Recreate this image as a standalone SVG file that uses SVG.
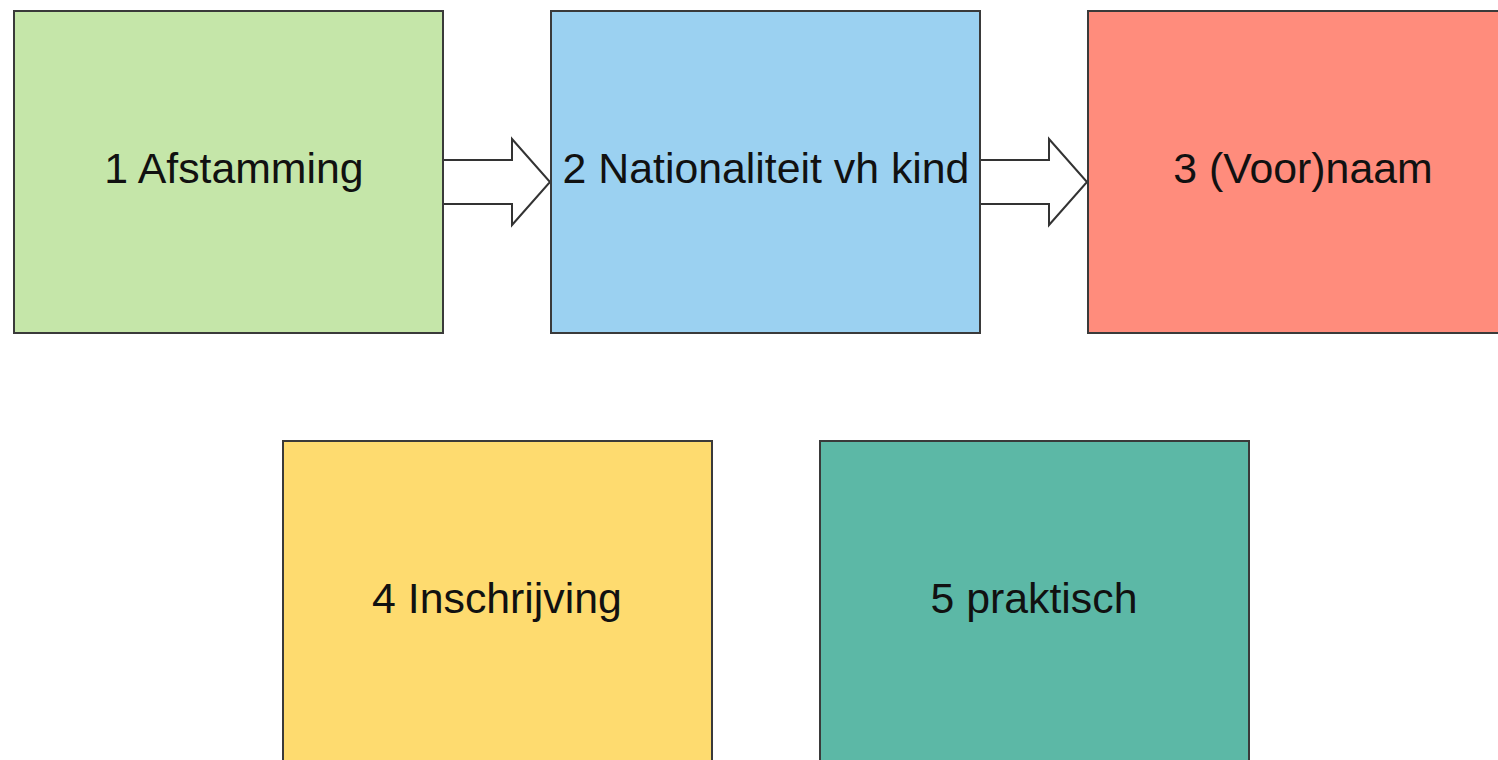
<svg xmlns="http://www.w3.org/2000/svg" width="1498" height="760" viewBox="0 0 1498 760">
<style>
.box{stroke:#3a3a3a;stroke-width:2}
.lbl{font-family:"Liberation Sans",Arial,sans-serif;font-size:42.8px;fill:#111;text-anchor:middle}
.arr{fill:#fff;stroke:#333;stroke-width:2;stroke-linejoin:miter}
</style>
<rect width="1498" height="760" fill="#fff"/>
<g id="connectors">
<path class="arr" d="M444,160 H512 V139 L550,182 L512,225 V204 H444"/>
<path class="arr" d="M981,160 H1049 V139 L1087,182 L1049,225 V204 H981"/>
</g>
<g id="n1"><rect class="box" x="14" y="11" width="429" height="322" fill="#c5e6a9"/><text class="lbl" x="234" y="183">1 Afstamming</text></g>
<g id="n2"><rect class="box" x="551" y="11" width="429" height="322" fill="#9bd1f1"/><text class="lbl" x="766" y="183">2 Nationaliteit vh kind</text></g>
<g id="n3"><rect class="box" x="1088" y="11" width="429" height="322" fill="#ff8c7c"/><text class="lbl" x="1303" y="183">3 (Voor)naam</text></g>
<g id="n4"><rect class="box" x="283" y="441" width="429" height="340" fill="#fedb6f"/><text class="lbl" x="497" y="613">4 Inschrijving</text></g>
<g id="n5"><rect class="box" x="820" y="441" width="429" height="340" fill="#5cb8a6"/><text class="lbl" x="1034" y="613">5 praktisch</text></g>
</svg>
